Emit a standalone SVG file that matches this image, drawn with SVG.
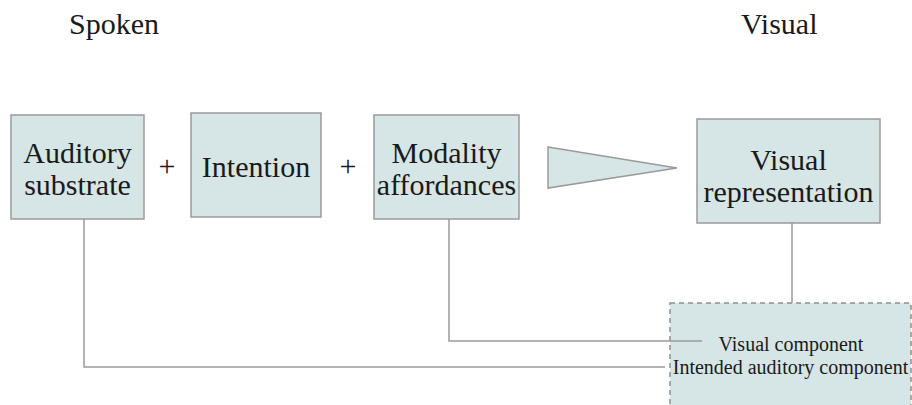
<svg xmlns="http://www.w3.org/2000/svg" width="912" height="405" viewBox="0 0 912 405">
  <style>
    .box { fill: #d6e5e5; stroke: #9a9a9a; stroke-width: 1.5; }
    .dash { fill: #d6e5e5; stroke: #8f8f8f; stroke-width: 1.5; stroke-dasharray: 5 4; }
    .lbl { font-family: "Liberation Serif", "Times New Roman", serif; font-size: 30px; fill: #1a1a1a; text-anchor: middle; }
    .title { font-family: "Liberation Serif", "Times New Roman", serif; font-size: 30px; fill: #1a1a1a; }
    .small { font-family: "Liberation Serif", "Times New Roman", serif; font-size: 20px; fill: #1a1a1a; text-anchor: middle; }
    .wire { fill: none; stroke: #9a9a9a; stroke-width: 1.5; }
  </style>
  <rect width="912" height="405" fill="#ffffff"/>

  <text class="title" x="69" y="34">Spoken</text>
  <text class="title" x="741" y="34">Visual</text>

  <!-- result area, open at the bottom edge -->
  <g id="components">
    <rect class="dash" x="670" y="303" width="241" height="120"/>
    <text class="small" x="791" y="351">Visual component</text>
    <text class="small" x="790.5" y="374">Intended auditory component</text>
  </g>

  <g id="connectors">
    <polyline class="wire" points="84,219 84,367 665,367"/>
    <polyline class="wire" points="449,219 449,341 702,341"/>
    <line class="wire" x1="792" y1="223" x2="792" y2="303"/>
  </g>

  <g id="auditory-substrate">
    <rect class="box" x="11" y="115" width="133" height="104"/>
    <text class="lbl" x="77.5" y="163">Auditory</text>
    <text class="lbl" x="77.5" y="195">substrate</text>
  </g>

  <text class="lbl" x="167" y="176">+</text>

  <g id="intention">
    <rect class="box" x="191" y="113" width="130" height="104"/>
    <text class="lbl" x="256" y="177">Intention</text>
  </g>

  <text class="lbl" x="348" y="176">+</text>

  <g id="modality-affordances">
    <rect class="box" x="374" y="115" width="145" height="104"/>
    <text class="lbl" x="446.5" y="163">Modality</text>
    <text class="lbl" x="446.5" y="195">affordances</text>
  </g>

  <g id="transform">
    <polygon class="box" points="548,147 677,168 548,188"/>
  </g>

  <g id="visual-representation">
    <rect class="box" x="697" y="119" width="183" height="104"/>
    <text class="lbl" x="788.5" y="170">Visual</text>
    <text class="lbl" x="788.5" y="202">representation</text>
  </g>
</svg>
